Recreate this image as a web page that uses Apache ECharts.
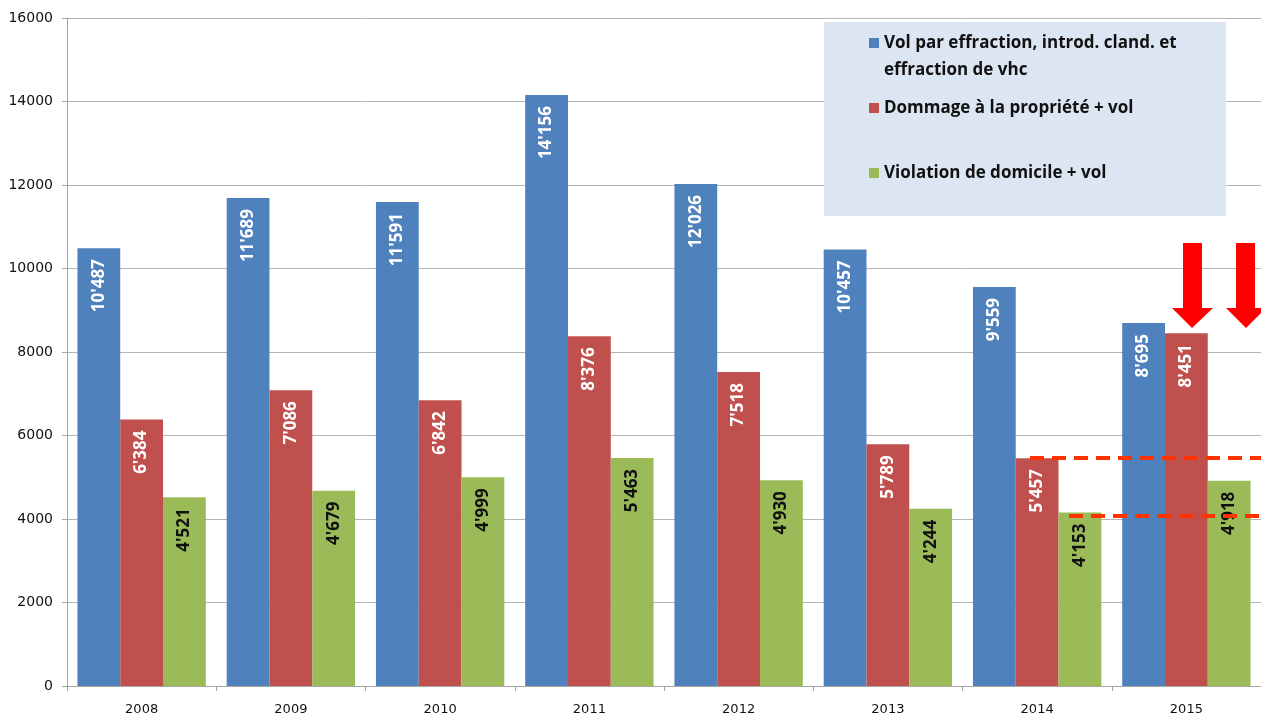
<!DOCTYPE html>
<html>
<head>
<meta charset="utf-8" />
<style>
  html, body { margin: 0; padding: 0; background: #fff; }
  #main { width: 1261px; height: 714px; }
</style>
</head>
<body>
<div id="main"></div>
<script src="https://cdn.jsdelivr.net/npm/echarts@6/dist/echarts.min.js"></script>
<script>
  var years = ['2008', '2009', '2010', '2011', '2012', '2013', '2014', '2015'];
  var volEffraction = [10487, 11689, 11591, 14156, 12026, 10457, 9559, 8695];
  var dommage = [6384, 7086, 6842, 8376, 7518, 5789, 5457, 8451];
  var violation = [4521, 4679, 4999, 5463, 4930, 4244, 4153, 4918];
  var seriesNames = [
    'Vol par effraction, introd. cland. et effraction de vhc',
    'Dommage à la propriété + vol',
    'Violation de domicile + vol'
  ];
  // reference levels of the dashed lines (2014 values)
  var refLevels = [5457, 4080];

  function fmt(v) {
    return String(v).replace(/\B(?=(\d{3})+(?!\d))/g, "'");
  }

  function barLabel(color) {
    return {
      show: true,
      position: 'insideTop',
      rotate: 90,
      align: 'right',
      verticalAlign: 'middle',
      distance: 11,
      color: color,
      fontFamily: 'Open Sans',
      fontWeight: 'bold',
      fontSize: 17,
      formatter: function (p) { return fmt(p.value); }
    };
  }

  var legendText = {
    color: '#111',
    fontFamily: 'Open Sans',
    fontWeight: 'bold',
    fontSize: 17,
    lineHeight: 26
  };

  function legendAt(name, top, label) {
    return {
      data: [name],
      orient: 'vertical',
      left: 869,
      top: top,
      padding: 0,
      z: 6,
      icon: 'rect',
      itemWidth: 10,
      itemHeight: 10,
      itemGap: 0,
      selectedMode: false,
      textStyle: legendText,
      formatter: function () { return label; }
    };
  }

  var chart = echarts.init(document.getElementById('main'));
  var option = {
    animation: false,
    color: ['#4f81bd', '#c0504d', '#9bbb59'],
    grid: { left: 67, right: 0, top: 18, bottom: 28, outerBoundsMode: 'none', containLabel: false },
    legend: [
      legendAt(seriesNames[0], 30, 'Vol par effraction, introd. cland. et'),
      legendAt(seriesNames[1], 95, seriesNames[1]),
      legendAt(seriesNames[2], 160, seriesNames[2])
    ],
    graphic: [
      {
        type: 'rect', left: 824, top: 22, z: 4,
        shape: { width: 402, height: 194 },
        style: { fill: '#dce6f2' }
      },
      {
        type: 'text', z: 6, x: 884, y: 70,
        style: {
          text: 'effraction de vhc',
          fill: '#111',
          font: 'bold 17px "Open Sans"',
          verticalAlign: 'middle'
        }
      },
      {
        type: 'polygon', z: 10,
        shape: { points: [[1183, 243], [1202, 243], [1202, 308], [1213, 308], [1192, 328], [1172, 308], [1183, 308]] },
        style: { fill: '#ff0000' }
      },
      {
        type: 'polygon', z: 10,
        shape: { points: [[1236, 243], [1255, 243], [1255, 308], [1266, 308], [1246, 328], [1226, 308], [1236, 308]] },
        style: { fill: '#ff0000' }
      }
    ],
    xAxis: {
      type: 'category',
      data: years,
      axisLine: { lineStyle: { color: '#a6a6a6' } },
      axisTick: { show: true, length: 5, lineStyle: { color: '#a6a6a6' } },
      axisLabel: { color: '#111', fontFamily: 'DejaVu Sans', fontSize: 13, margin: 17 }
    },
    yAxis: {
      type: 'value',
      min: 0,
      max: 16000,
      interval: 2000,
      axisLine: { show: true, lineStyle: { color: '#a6a6a6' } },
      axisTick: { show: true, length: 5, lineStyle: { color: '#a6a6a6' } },
      axisLabel: {
        color: '#111', fontFamily: 'DejaVu Sans', fontSize: 14, margin: 14,
        formatter: function (v) { return String(v); }
      },
      splitLine: { lineStyle: { color: '#b4b4b4', width: 1 } }
    },
    series: [
      {
        name: seriesNames[0], type: 'bar', data: volEffraction,
        barGap: '0%', barCategoryGap: '14%',
        label: barLabel('#ffffff')
      },
      {
        name: seriesNames[1], type: 'bar', data: dommage,
        barGap: '0%', barCategoryGap: '14%',
        label: barLabel('#ffffff')
      },
      {
        name: seriesNames[2], type: 'bar', data: violation,
        barGap: '0%', barCategoryGap: '14%',
        label: barLabel('#111111'),
        markLine: {
          silent: true,
          symbol: 'none',
          label: { show: false },
          lineStyle: { color: '#ff3300', width: 4, type: [14, 8] },
          data: [
            [{ coord: [6, refLevels[0]], x: 1030 }, { coord: [7, refLevels[0]], x: 1261 }],
            [{ coord: [6, refLevels[1]], x: 1069 }, { coord: [7, refLevels[1]], x: 1261 }]
          ]
        }
      }
    ]
  };
  chart.setOption(option);
</script>
</body>
</html>
